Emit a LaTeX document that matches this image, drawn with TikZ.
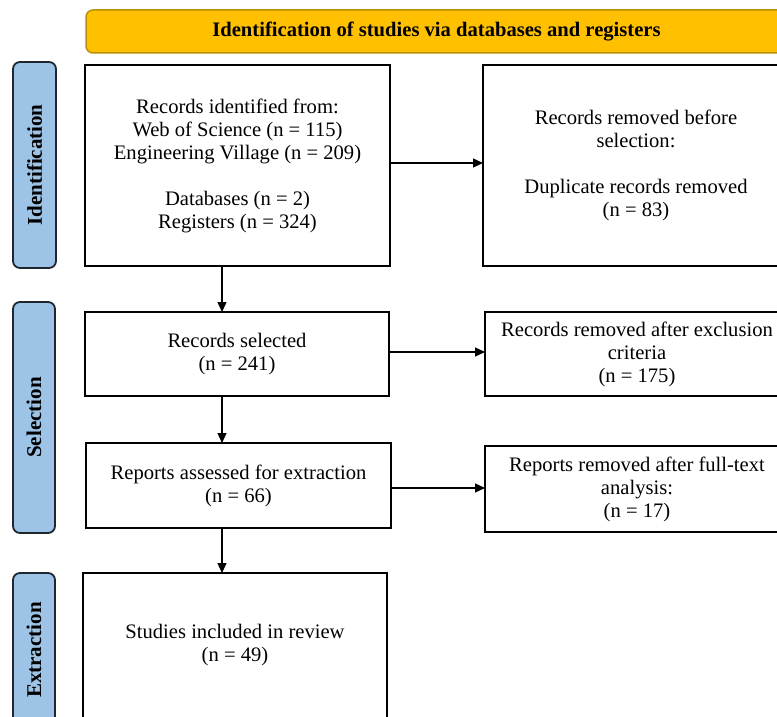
\documentclass[tikz,border=0pt]{standalone}
\usepackage{fontspec}
\setmainfont{Liberation Serif}
\usetikzlibrary{arrows.meta,calc}
\definecolor{bannerfill}{HTML}{FFC000}
\definecolor{bannerdraw}{HTML}{B8900A}
\definecolor{labfill}{HTML}{9DC3E6}
\definecolor{labdraw}{HTML}{1E2630}
\begin{document}
\begin{tikzpicture}[x=1pt,y=-1pt,
  box/.style={draw=black,line width=1.8pt,fill=white},
  txt/.style={align=center,font=\fontsize{20.6}{23}\selectfont,inner sep=0pt},
  lab/.style={draw=labdraw,fill=labfill,line width=1.8pt,rounded corners=7pt},
  labtxt/.style={rotate=90,font=\fontsize{21}{24}\selectfont\bfseries,inner sep=0pt},
  arr/.style={line width=1.3pt,-{Triangle[length=10pt,width=9pt]}}]
\useasboundingbox (0,0) rectangle (777,717);
% banner
\draw[fill=bannerfill,draw=bannerdraw,line width=1.5pt,rounded corners=7pt] (86,10) rectangle (800,53);
\node[font=\fontsize{20.6}{23}\selectfont\bfseries,inner sep=0pt] (banner) at (436.5,31.5) {Identification of studies via databases and registers};
% side labels
\draw[lab] (13,62) rectangle (56,268);
\node[labtxt] (l1) at (34.5,165) {Identification};
\draw[lab] (13,302) rectangle (55,533);
\node[labtxt] (l2) at (34,417.5) {Selection};
\draw[lab] (13,573) rectangle (55,740);
\node[labtxt] (l3) at (34,650) {Extraction};
% boxes
\draw[box] (85,65) rectangle (390,266);
\node[txt] (b1) at (237.5,165.5) {Records identified from:\\Web of Science (n = 115)\\Engineering Village (n = 209)\\[23pt]Databases (n = 2)\\Registers (n = 324)};
\coordinate (b1s) at (222,266);
\coordinate (b1e) at (390,163);
\draw[box] (483,65) rectangle (790,266);
\node[txt] (r1) at (636,165.5) {Records removed before\\selection:\\[23pt]Duplicate records removed\\(n = 83)};
\coordinate (r1w) at (483,163);
\draw[box] (85,312) rectangle (389,396);
\node[txt] (b2) at (237,354) {Records selected\\(n = 241)};
\coordinate (b2n) at (222,312);
\coordinate (b2s) at (222,396);
\coordinate (b2e) at (389,352);
\draw[box] (485,312) rectangle (790,396);
\node[txt] (r2) at (637,354) {Records removed after exclusion\\criteria\\(n = 175)};
\coordinate (r2w) at (485,352);
\draw[box] (86,443) rectangle (391,528);
\node[txt] (b3) at (238.5,485.5) {Reports assessed for extraction\\(n = 66)};
\coordinate (b3n) at (222,443);
\coordinate (b3s) at (222,528);
\coordinate (b3e) at (391,488);
\draw[box] (485,446) rectangle (790,532);
\node[txt] (r3) at (637,489) {Reports removed after full-text\\analysis:\\(n = 17)};
\coordinate (r3w) at (485,488);
\draw[box] (83,573) rectangle (387,725);
\node[txt] (b4) at (235,645.5) {Studies included in review\\(n = 49)};
\coordinate (b4n) at (222,573);
% arrows
\draw[arr] (b1e) -- (r1w);
\draw[arr] (b1s) -- (b2n);
\draw[arr] (b2e) -- (r2w);
\draw[arr] (b2s) -- (b3n);
\draw[arr] (b3e) -- (r3w);
\draw[arr] (b3s) -- (b4n);
\end{tikzpicture}
\end{document}
